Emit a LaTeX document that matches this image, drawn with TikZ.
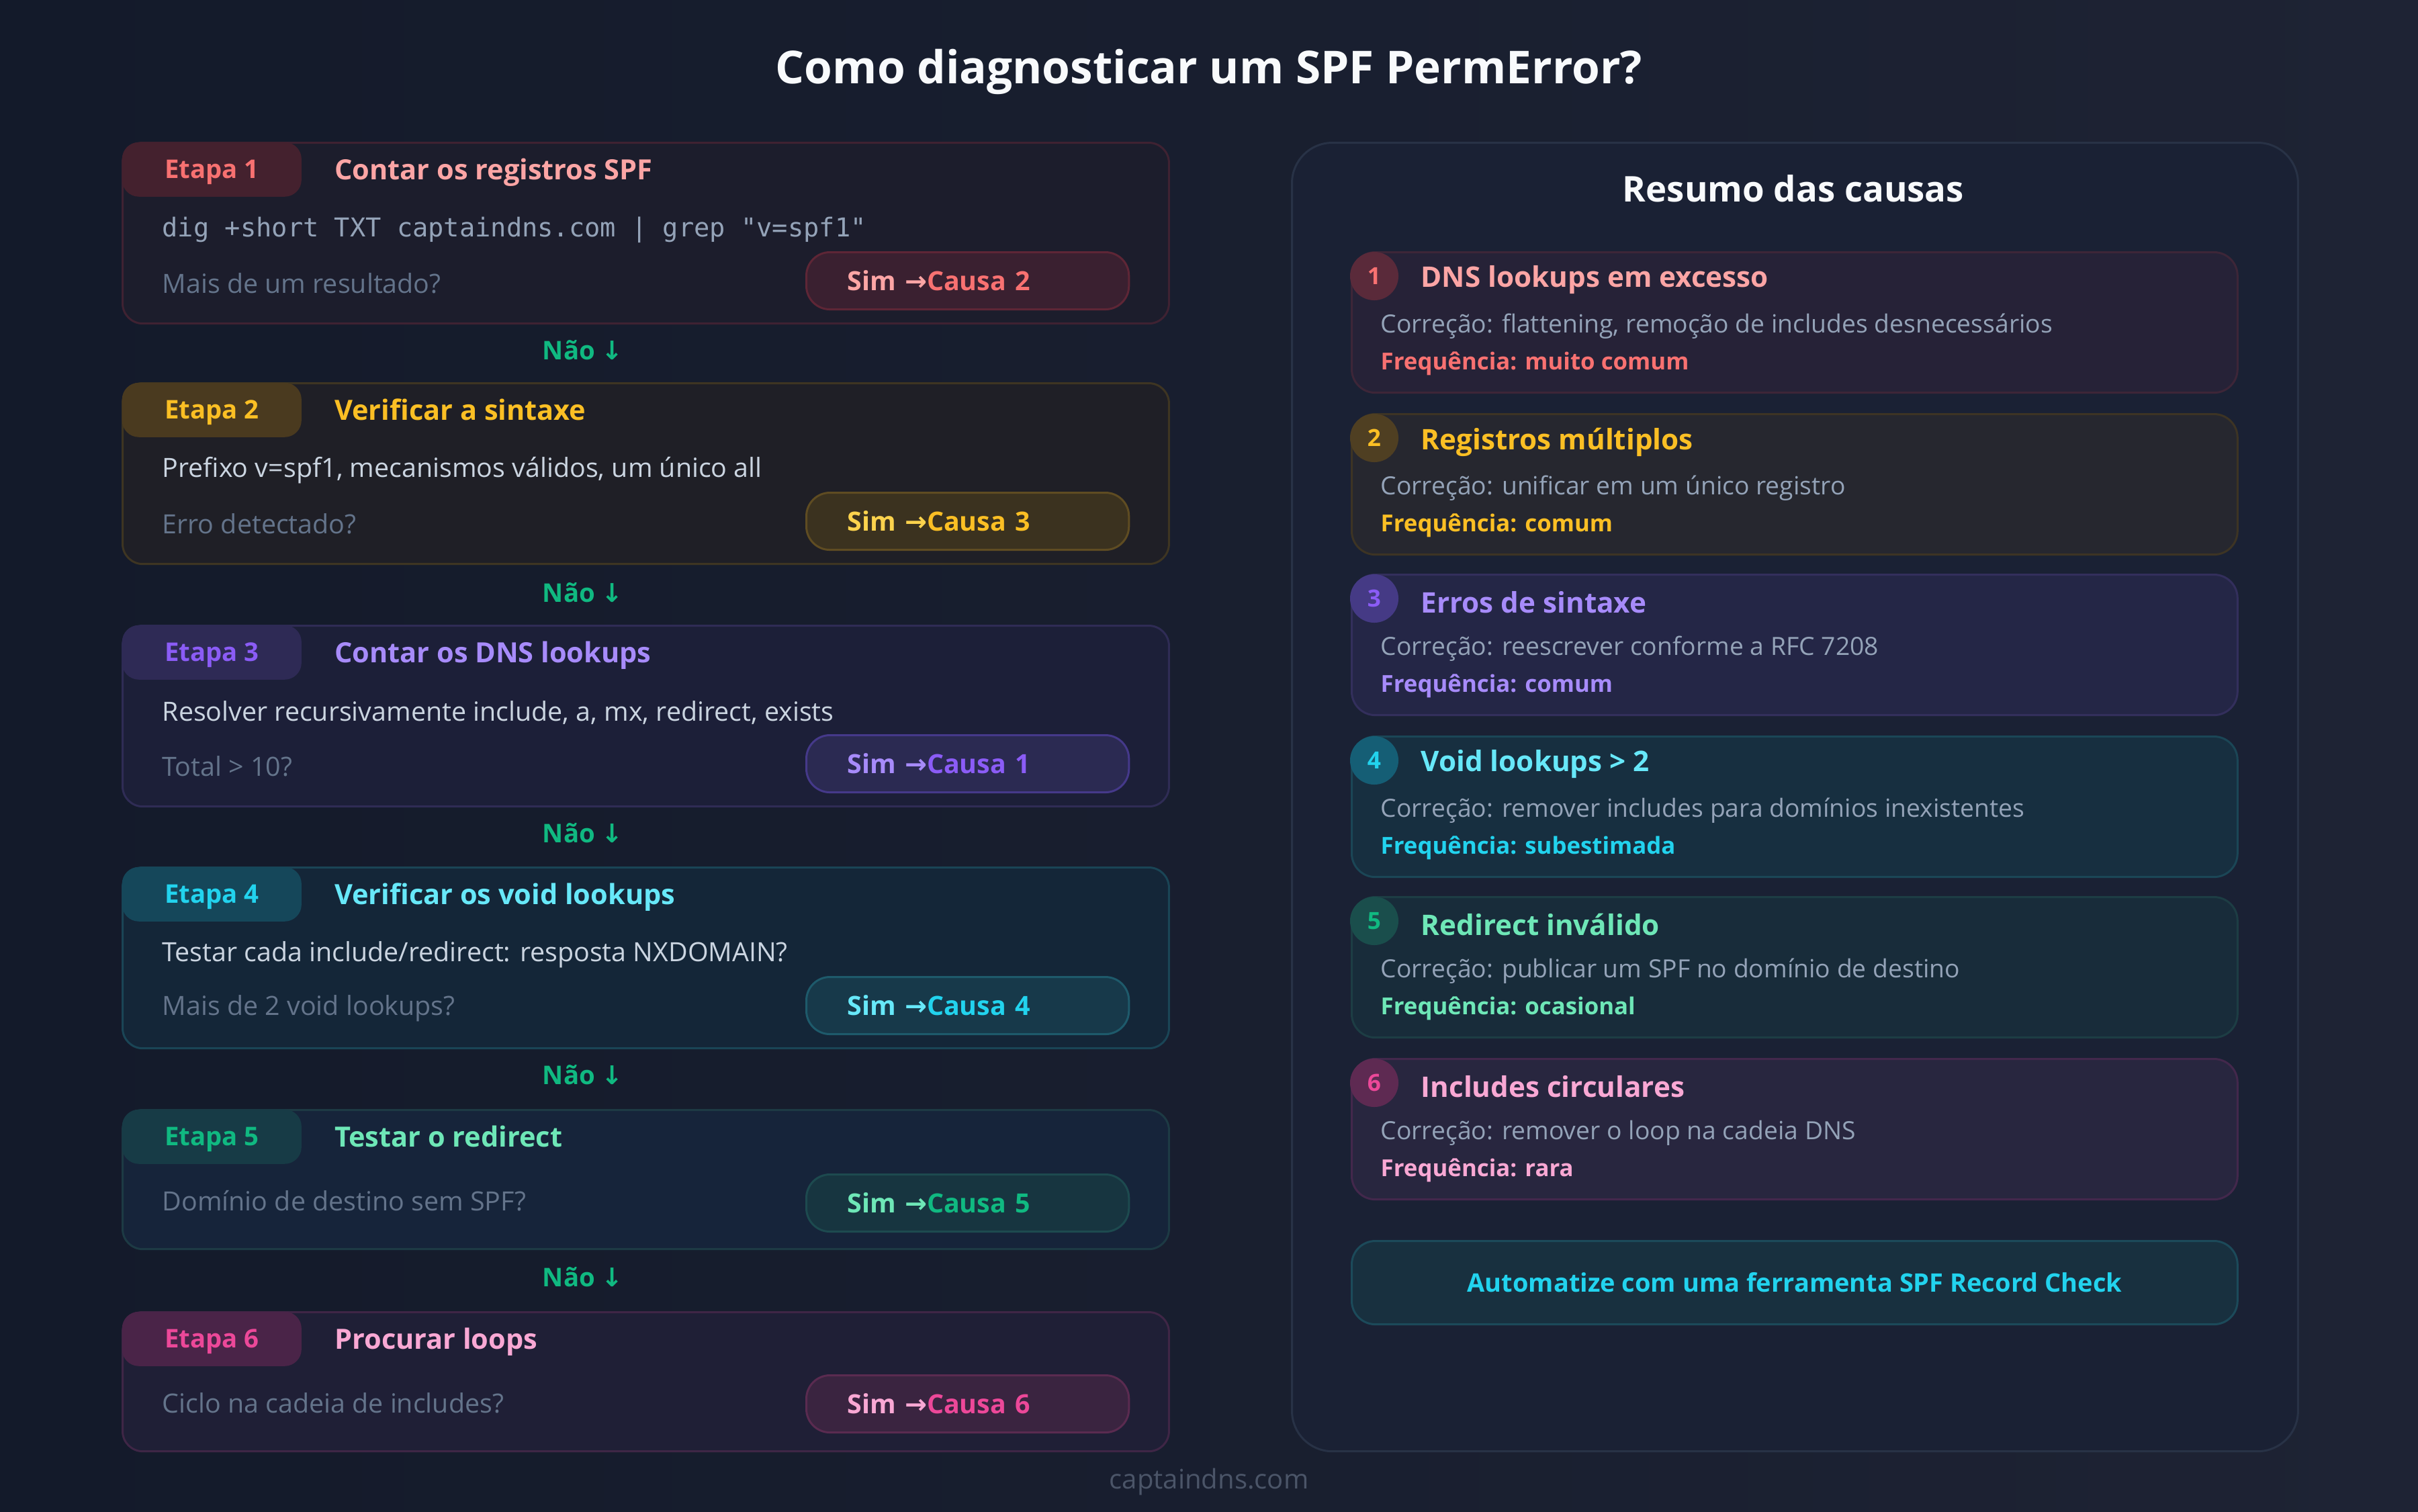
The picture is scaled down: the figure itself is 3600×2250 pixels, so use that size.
\documentclass[tikz,border=0pt]{standalone}
\usepackage{fontspec}
\setmainfont{Open Sans}
\setmonofont{DejaVu Sans Mono}
\newfontfamily\arrfont{DejaVu Sans}
\usetikzlibrary{positioning}

\definecolor{bgA}{HTML}{131A2A}
\definecolor{bgB}{HTML}{1E2334}
\definecolor{txWhite}{HTML}{F8FAFC}
\definecolor{txBody}{HTML}{CBD5E1}
\definecolor{txDim}{HTML}{64748B}
\definecolor{txMono}{HTML}{94A3B8}
\definecolor{txFix}{HTML}{94A3B8}
\definecolor{txFoot}{HTML}{4B5568}
% red
\definecolor{rdStrong}{HTML}{F87171}
\definecolor{rdLight}{HTML}{FCA5A5}
\definecolor{rdBadge}{HTML}{44212E}
\definecolor{rdCard}{HTML}{1C1D2C}
\definecolor{rdLine}{HTML}{3F2232}
\definecolor{rdBtn}{HTML}{3A2030}
\definecolor{rdBtnLine}{HTML}{5E2636}
\definecolor{rdCause}{HTML}{262237}
\definecolor{rdCauseLine}{HTML}{3D2638}
\definecolor{rdCirc}{HTML}{5A2A3A}
% amber
\definecolor{amStrong}{HTML}{FBBF24}
\definecolor{amLight}{HTML}{FCD34D}
\definecolor{amBadge}{HTML}{4A3A1F}
\definecolor{amCard}{HTML}{1F1F26}
\definecolor{amLine}{HTML}{3E3522}
\definecolor{amBtn}{HTML}{3B321F}
\definecolor{amBtnLine}{HTML}{5F4C22}
\definecolor{amCause}{HTML}{26272F}
\definecolor{amCauseLine}{HTML}{3D3424}
\definecolor{amCirc}{HTML}{4F3F22}
% purple
\definecolor{puStrong}{HTML}{8B5CF6}
\definecolor{puLight}{HTML}{A78BFA}
\definecolor{puBadge}{HTML}{2E2A55}
\definecolor{puCard}{HTML}{1C1F38}
\definecolor{puLine}{HTML}{2F2C55}
\definecolor{puBtn}{HTML}{2B2A52}
\definecolor{puBtnLine}{HTML}{45398A}
\definecolor{puCause}{HTML}{242646}
\definecolor{puCauseLine}{HTML}{332F5C}
\definecolor{puCirc}{HTML}{453A85}
% cyan
\definecolor{cyStrong}{HTML}{22D3EE}
\definecolor{cyLight}{HTML}{67E8F9}
\definecolor{cyBadge}{HTML}{15475A}
\definecolor{cyCard}{HTML}{142638}
\definecolor{cyLine}{HTML}{1A4556}
\definecolor{cyBtn}{HTML}{17394A}
\definecolor{cyBtnLine}{HTML}{1E5A6B}
\definecolor{cyCause}{HTML}{172F40}
\definecolor{cyCauseLine}{HTML}{1B4656}
\definecolor{cyCirc}{HTML}{155E75}
% green
\definecolor{grStrong}{HTML}{10B981}
\definecolor{grLight}{HTML}{6EE7B7}
\definecolor{grBadge}{HTML}{173B46}
\definecolor{grCard}{HTML}{16243A}
\definecolor{grLine}{HTML}{1D3A44}
\definecolor{grBtn}{HTML}{173540}
\definecolor{grBtnLine}{HTML}{1D4A4F}
\definecolor{grCause}{HTML}{182C3A}
\definecolor{grCauseLine}{HTML}{1D3D44}
\definecolor{grCirc}{HTML}{1A4E4C}
% pink
\definecolor{piStrong}{HTML}{EC4899}
\definecolor{piLight}{HTML}{F9A8D4}
\definecolor{piBadge}{HTML}{4A2448}
\definecolor{piCard}{HTML}{1F1F36}
\definecolor{piLine}{HTML}{3F2646}
\definecolor{piBtn}{HTML}{3A2440}
\definecolor{piBtnLine}{HTML}{5A2B50}
\definecolor{piCause}{HTML}{28263F}
\definecolor{piCauseLine}{HTML}{43284C}
\definecolor{piCirc}{HTML}{5E2A52}
% panel
\definecolor{panelFill}{HTML}{1A2134}
\definecolor{panelLine}{HTML}{283246}
\definecolor{autoFill}{HTML}{18303F}
\definecolor{autoLine}{HTML}{1C4A5A}

\begin{document}
\begin{tikzpicture}
  [%
 x=0.01cm, y=-0.01cm,
 card/.style={
  anchor=north west,
  rectangle,
  rounded corners=3mm,
  minimum width=155.7mm,
  line width=0.3mm, % border
  inner sep=0pt},
 badge/.style={
  anchor=north west,
  rounded corners=2.5mm,
  minimum width=26.7mm,
  minimum height=8.1mm,
  inner sep=0pt,
  text depth=0.5pt,
  font=\fontsize{10.9}{12}\selectfont\bfseries},
 steptitle/.style={
  anchor=west, inner sep=0pt, text depth=0.5pt,
  font=\fontsize{11.8}{14}\selectfont\bfseries},
 bodytext/.style={
  anchor=west, inner sep=0pt, text=txBody,
  font=\fontsize{11.2}{13}\selectfont},
 question/.style={bodytext, text=txDim},
 code/.style={
  anchor=west, inner sep=0pt, text=txMono,
  font=\fontsize{11}{13}\ttfamily},
 simbtn/.style={
  anchor=north west,
  rounded corners=3.5mm,
  minimum width=48mm,
  minimum height=8.5mm,
  line width=0.3mm,
  inner xsep=6.1mm, inner ysep=0pt,
  text width=35.8mm, align=left,
  font=\fontsize{11.2}{13}\selectfont\bfseries},
 nao/.style={
  inner sep=0pt, text=grStrong,
  font=\fontsize{10.9}{12}\selectfont\bfseries},
 causebox/.style={
  anchor=north west,
  rounded corners=3.5mm,
  minimum width=131.8mm,
  minimum height=20.9mm,
  line width=0.3mm,
  inner sep=0pt},
 num/.style={
  circle, minimum size=7.2mm, inner sep=0pt,
  font=\fontsize{10}{12}\selectfont\bfseries},
 causetitle/.style={
  anchor=west, inner sep=0pt,
  font=\fontsize{12}{14}\selectfont\bfseries},
 fixtext/.style={
  anchor=west, inner sep=0pt, text=txFix,
  font=\fontsize{10.6}{12}\selectfont},
 freq/.style={
  anchor=west, inner sep=0pt,
  font=\fontsize{9.9}{12}\selectfont\bfseries}]

\useasboundingbox (0,0) rectangle (3600,2250);
\shade[left color=bgA, right color=bgB] (0,0) rectangle (3600,2250);

\node (title) [text=txWhite, font=\fontsize{19.2}{23}\selectfont\bfseries] at (1800,107) {Como diagnosticar um SPF PermError?};

% steps
\node (card1) [card, minimum height=26.9mm, fill=rdCard, draw=rdLine] at (181,211) {};
\node (badge1) [badge, fill=rdBadge, text=rdStrong] at (card1.north west) {Etapa 1};
\node (stitle1) [steptitle, text=rdLight, right=4.8mm of badge1] {Contar os registros SPF};
\node (cmd1) [code] at (241,342) {dig +short TXT captaindns.com | grep "v=spf1"};
\node (ask1) [question] at (241,422) {Mais de um resultado?};
\node (sim1) [simbtn, fill=rdBtn, draw=rdBtnLine, text=rdLight] at (1199,374) {Sim {\arrfont→}\textcolor{rdStrong}{Causa 2}};
\node (nao1) [nao] at (868,521) {Não {\arrfont↓}};

\node (card2) [card, minimum height=26.9mm, fill=amCard, draw=amLine] at (181,569) {};
\node (badge2) [badge, fill=amBadge, text=amStrong] at (card2.north west) {Etapa 2};
\node (stitle2) [steptitle, text=amStrong, right=4.8mm of badge2] {Verificar a sintaxe};
\node (body2) [bodytext] at (241,700) {Prefixo v=spf1, mecanismos válidos, um único all};
\node (ask2) [question] at (241,780) {Erro detectado?};
\node (sim2) [simbtn, fill=amBtn, draw=amBtnLine, text=amLight] at (1199,732) {Sim {\arrfont→}\textcolor{amStrong}{Causa 3}};
\node (nao2) [nao] at (868,882) {Não {\arrfont↓}};

\node (card3) [card, minimum height=26.9mm, fill=puCard, draw=puLine] at (181,930) {};
\node (badge3) [badge, fill=puBadge, text=puStrong] at (card3.north west) {Etapa 3};
\node (stitle3) [steptitle, text=puLight, right=4.8mm of badge3] {Contar os DNS lookups};
\node (body3) [bodytext] at (241,1061) {Resolver recursivamente include, a, mx, redirect, exists};
\node (ask3) [question] at (241,1141) {Total > 10?};
\node (sim3) [simbtn, fill=puBtn, draw=puBtnLine, text=puLight] at (1199,1093) {Sim {\arrfont→}\textcolor{puStrong}{Causa 1}};
\node (nao3) [nao] at (868,1240) {Não {\arrfont↓}};

\node (card4) [card, minimum height=26.9mm, fill=cyCard, draw=cyLine] at (181,1290) {};
\node (badge4) [badge, fill=cyBadge, text=cyStrong] at (card4.north west) {Etapa 4};
\node (stitle4) [steptitle, text=cyLight, right=4.8mm of badge4] {Verificar os void lookups};
\node (body4) [bodytext] at (241,1421) {Testar cada include/redirect: resposta NXDOMAIN?};
\node (ask4) [question] at (241,1501) {Mais de 2 void lookups?};
\node (sim4) [simbtn, fill=cyBtn, draw=cyBtnLine, text=cyLight] at (1199,1453) {Sim {\arrfont→}\textcolor{cyStrong}{Causa 4}};
\node (nao4) [nao] at (868,1600) {Não {\arrfont↓}};

\node (card5) [card, minimum height=20.7mm, fill=grCard, draw=grLine] at (181,1651) {};
\node (badge5) [badge, fill=grBadge, text=grStrong] at (card5.north west) {Etapa 5};
\node (stitle5) [steptitle, text=grLight, right=4.8mm of badge5] {Testar o redirect};
\node (ask5) [question] at (241,1788) {Domínio de destino sem SPF?};
\node (sim5) [simbtn, fill=grBtn, draw=grBtnLine, text=grLight] at (1199,1747) {Sim {\arrfont→}\textcolor{grStrong}{Causa 5}};
\node (nao5) [nao] at (868,1901) {Não {\arrfont↓}};

\node (card6) [card, minimum height=20.7mm, fill=piCard, draw=piLine] at (181,1952) {};
\node (badge6) [badge, fill=piBadge, text=piStrong] at (card6.north west) {Etapa 6};
\node (stitle6) [steptitle, text=piLight, right=4.8mm of badge6] {Procurar loops};
\node (ask6) [question] at (241,2089) {Ciclo na cadeia de includes?};
\node (sim6) [simbtn, fill=piBtn, draw=piBtnLine, text=piLight] at (1199,2046) {Sim {\arrfont→}\textcolor{piStrong}{Causa 6}};

% summary panel
\node (panel) [anchor=north west, rounded corners=6mm, minimum width=149.7mm, minimum height=194.7mm, fill=panelFill, draw=panelLine, line width=0.3mm, inner sep=0pt] at (1922,211) {};
\node (ptitle) [text=txWhite, font=\fontsize{15}{18}\selectfont\bfseries] at (2670,281) {Resumo das causas};

\node (cause1) [causebox, fill=rdCause, draw=rdCauseLine] at (2011,374) {};
\node (n1) [num, fill=rdCirc, text=rdStrong] at (2046,411) {1};
\node (ctitle1) [causetitle, text=rdLight] at (2115,417) {DNS lookups em excesso};
\node (fix1) [fixtext] at (2055,486) {Correção: flattening, remoção de includes desnecessários};
\node (freq1) [freq, text=rdStrong] at (2055,541) {Frequência: muito comum};

\node (cause2) [causebox, fill=amCause, draw=amCauseLine] at (2011,615) {};
\node (n2) [num, fill=amCirc, text=amStrong] at (2046,652) {2};
\node (ctitle2) [causetitle, text=amStrong] at (2115,658) {Registros múltiplos};
\node (fix2) [fixtext] at (2055,727) {Correção: unificar em um único registro};
\node (freq2) [freq, text=amStrong] at (2055,782) {Frequência: comum};

\node (cause3) [causebox, fill=puCause, draw=puCauseLine] at (2011,854) {};
\node (n3) [num, fill=puCirc, text=puStrong] at (2046,891) {3};
\node (ctitle3) [causetitle, text=puLight] at (2115,897) {Erros de sintaxe};
\node (fix3) [fixtext] at (2055,966) {Correção: reescrever conforme a RFC 7208};
\node (freq3) [freq, text=puLight] at (2055,1021) {Frequência: comum};

\node (cause4) [causebox, fill=cyCause, draw=cyCauseLine] at (2011,1095) {};
\node (n4) [num, fill=cyCirc, text=cyStrong] at (2046,1132) {4};
\node (ctitle4) [causetitle, text=cyLight] at (2115,1138) {Void lookups > 2};
\node (fix4) [fixtext] at (2055,1207) {Correção: remover includes para domínios inexistentes};
\node (freq4) [freq, text=cyStrong] at (2055,1262) {Frequência: subestimada};

\node (cause5) [causebox, fill=grCause, draw=grCauseLine] at (2011,1334) {};
\node (n5) [num, fill=grCirc, text=grStrong] at (2046,1371) {5};
\node (ctitle5) [causetitle, text=grLight] at (2115,1377) {Redirect inválido};
\node (fix5) [fixtext] at (2055,1446) {Correção: publicar um SPF no domínio de destino};
\node (freq5) [freq, text=grLight] at (2055,1501) {Frequência: ocasional};

\node (cause6) [causebox, fill=piCause, draw=piCauseLine] at (2011,1575) {};
\node (n6) [num, fill=piCirc, text=piStrong] at (2046,1612) {6};
\node (ctitle6) [causetitle, text=piLight] at (2115,1618) {Includes circulares};
\node (fix6) [fixtext] at (2055,1687) {Correção: remover o loop na cadeia DNS};
\node (freq6) [freq, text=piLight] at (2055,1742) {Frequência: rara};

\node (auto) [anchor=north west, rounded corners=3.5mm, minimum width=131.8mm, minimum height=12.4mm, fill=autoFill, draw=autoLine, line width=0.3mm, inner sep=0pt, text=cyStrong, font=\fontsize{10.8}{13}\selectfont\bfseries] at (2011,1846) {Automatize com uma ferramenta SPF Record Check};

\node (foot) [text=txFoot, font=\fontsize{11.4}{13}\selectfont] at (1800,2206) {captaindns.com};
\end{tikzpicture}
\end{document}
